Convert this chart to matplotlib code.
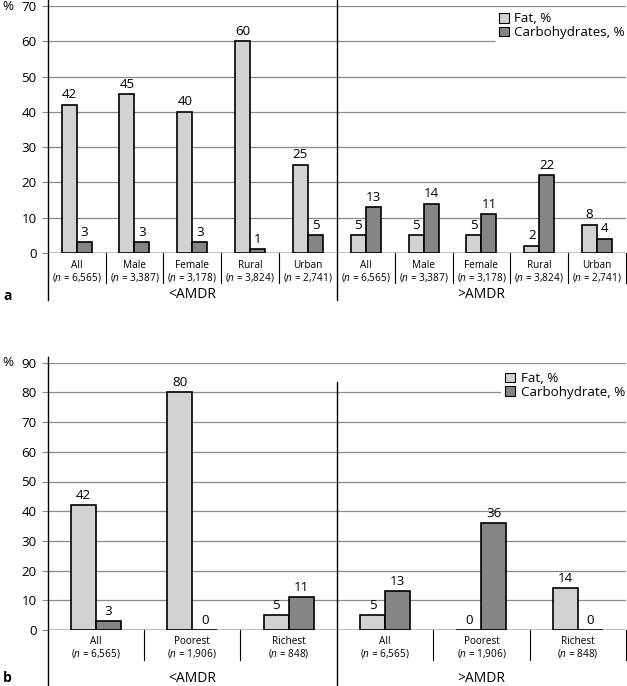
import matplotlib
matplotlib.use("Agg")
import matplotlib.pyplot as plt
from matplotlib.patches import Patch

plt.rcParams['font.family'] = ['Open Sans', 'DejaVu Sans']
plt.rcParams['mathtext.fontset'] = 'custom'
plt.rcParams['mathtext.it'] = 'Open Sans:italic'
plt.rcParams['mathtext.rm'] = 'Open Sans'

# panel a: by sex / residence
groups_a = ["All", "Male", "Female", "Rural", "Urban"]
n_a = ["6,565", "3,387", "3,178", "3,824", "2,741"]
fat_low_a = [42, 45, 40, 60, 25]
carb_low_a = [3, 3, 3, 1, 5]
fat_high_a = [5, 5, 5, 2, 8]
carb_high_a = [13, 14, 11, 22, 4]

# panel b: by wealth
groups_b = ["All", "Poorest", "Richest"]
n_b = ["6,565", "1,906", "848"]
fat_low_b = [42, 80, 5]
carb_low_b = [3, 0, 11]
fat_high_b = [5, 0, 14]
carb_high_b = [13, 36, 0]

ranges = ["<AMDR", ">AMDR"]

FAT_COL = '#d2d2d2'
CARB_COL = '#858585'
GRID_COL = '#8c8c8c'
W = 0.26
FS = 9.6

fig = plt.figure(figsize=(6.27, 6.86), dpi=100)


def draw_panel(ax, groups, ns, fat_low, carb_low, fat_high, carb_high,
               ymax, carb_name, sep_px, lab1_px, lab2_px, rng_px,
               div_top_px, div_bot_px, spine_bot_px, legend_anchor):
    fat = fat_low + fat_high
    carb = carb_low + carb_high
    cats = groups + groups
    ncat = len(cats)
    xs = list(range(ncat))
    h_px = ax.get_position().height * fig.get_figheight() * fig.dpi

    ax.set_xlim(-0.5, ncat - 0.5)
    ax.set_ylim(0, ymax)
    ax.set_yticks(range(0, ymax + 1, 10))
    ax.yaxis.grid(True, color=GRID_COL, lw=0.9)
    ax.set_axisbelow(True)
    for s in ax.spines.values():
        s.set_visible(False)
    ax.set_xticks([])
    ax.tick_params(axis='y', length=4, width=0.8, color=GRID_COL, pad=4,
                   labelsize=FS)

    b1 = ax.bar([x - W / 2 for x in xs], fat, W, color=FAT_COL,
                edgecolor='black', lw=1.2, zorder=3)
    b2 = ax.bar([x + W / 2 for x in xs], carb, W, color=CARB_COL,
                edgecolor='black', lw=1.2, zorder=3)
    for bars in (b1, b2):
        for r in bars:
            ax.annotate(f"{r.get_height():.0f}",
                        (r.get_x() + r.get_width() / 2, r.get_height()),
                        xytext=(0, 2.5), textcoords='offset points',
                        ha='center', va='bottom', fontsize=FS)

    tr = ax.get_xaxis_transform()
    # baseline
    ax.axhline(0, color='black', lw=1.0, zorder=4)
    # left spine and middle divider extending below
    ax.plot([-0.5, -0.5], [1 + 6 / h_px, -spine_bot_px / h_px], transform=tr,
            color='black', lw=1.0, clip_on=False)
    mid = ncat / 2 - 0.5
    ax.plot([mid, mid], [1 + div_top_px / h_px, -div_bot_px / h_px],
            transform=tr, color='black', lw=1.0, clip_on=False)
    # category separators
    for k in range(1, ncat + 1):
        if k == ncat // 2:
            continue
        ax.plot([k - 0.5, k - 0.5], [0, -sep_px / h_px], transform=tr,
                color='black', lw=0.8, clip_on=False)

    for x, c, n in zip(xs, cats, ns + ns):
        ax.annotate(c, (x, 0), xycoords=tr, xytext=(0, -lab1_px * 0.72),
                    textcoords='offset points', ha='center', va='center',
                    fontsize=7.2)
        ax.annotate(f"($n$ = {n})", (x, 0), xycoords=tr,
                    xytext=(0, -lab2_px * 0.72), textcoords='offset points',
                    ha='center', va='center', fontsize=7.2)
    half = ncat // 2
    for j, r in enumerate(ranges):
        xc = (half - 1) / 2 + j * half
        ax.annotate(r, (xc, 0), xycoords=tr, xytext=(0, -rng_px * 0.72),
                    textcoords='offset points', ha='center', va='center',
                    fontsize=10)

    handles = [Patch(facecolor=FAT_COL, edgecolor='black', lw=0.8),
               Patch(facecolor=CARB_COL, edgecolor='black', lw=0.8)]
    leg = ax.legend(handles, ["Fat, %", carb_name], loc='upper right',
                    bbox_to_anchor=legend_anchor, frameon=True,
                    fontsize=FS, handlelength=0.75, handleheight=0.75,
                    handletextpad=0.4, labelspacing=0.05, borderpad=0.3,
                    borderaxespad=0)
    leg.get_frame().set_edgecolor('none')
    leg.get_frame().set_facecolor('white')
    leg.get_frame().set_alpha(1)
    leg.set_zorder(5)


ax_a = fig.add_axes([47.7 / 627, 1 - 253 / 686, 578.3 / 627, 247 / 686])
draw_panel(ax_a, groups_a, n_a, fat_low_a, carb_low_a, fat_high_a,
           carb_high_a, 70, "Carbohydrates, %", 30, 12, 24, 42,
           6, 47, 47, (1.005, 0.99))

ax_b = fig.add_axes([47.7 / 627, 1 - 630 / 686, 578.3 / 627, 267.3 / 686])
draw_panel(ax_b, groups_b, n_b, fat_low_b, carb_low_b, fat_high_b,
           carb_high_b, 90, "Carbohydrate, %", 30, 11.7, 23, 48,
           -19, 56, 56, (1.005, 0.98))

fig.text(8 / 627, 1 - 6 / 686, "%", ha='center', va='center', fontsize=FS)
fig.text(8 / 627, 1 - 362.7 / 686, "%", ha='center', va='center',
         fontsize=FS)
fig.text(3 / 627, 1 - 296 / 686, "a", ha='left', va='center', fontsize=10,
         fontweight='bold')
fig.text(3 / 627, 1 - 678 / 686, "b", ha='left', va='center', fontsize=10,
         fontweight='bold')

fig.savefig("out.png", dpi=100)
